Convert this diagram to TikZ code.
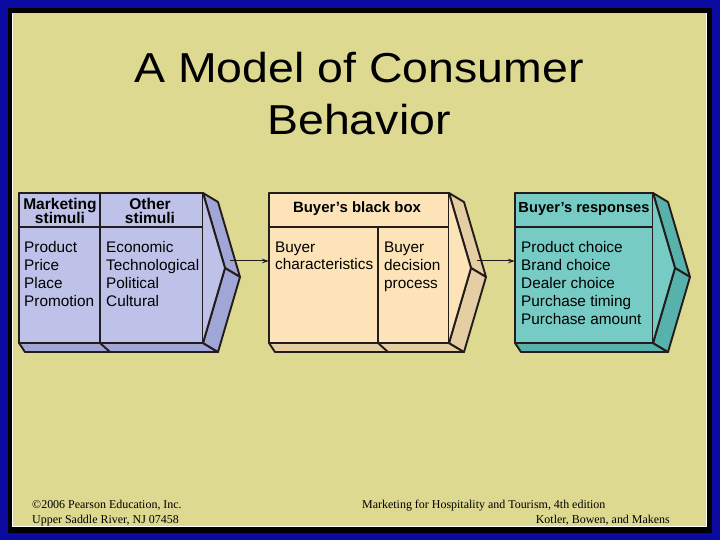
\documentclass[tikz,border=0pt]{standalone}
\usepackage{graphicx}
\usepackage{fontspec}
\setmainfont{Liberation Sans}
\newfontfamily\footfont{Liberation Serif}
\usetikzlibrary{arrows.meta}
\definecolor{slideblue}{RGB}{10,10,160}
\definecolor{slidetan}{RGB}{221,217,144}
\definecolor{edge}{RGB}{35,28,28}
\definecolor{lavfront}{RGB}{190,194,232}
\definecolor{lavside}{RGB}{160,167,214}
\definecolor{peachfront}{RGB}{253,228,184}
\definecolor{peachside}{RGB}{230,206,164}
\definecolor{tealfront}{RGB}{118,204,196}
\definecolor{tealside}{RGB}{88,178,172}
\tikzset{
  outline/.style={draw=edge, line width=1.9bp, line join=round},
  frontbox/.style={outline, rectangle, inner sep=0pt, outer sep=0pt, anchor=north west, minimum height=150bp},
  boxtext/.style={inner sep=0pt, anchor=base west, align=left, font=\fontsize{15.4}{18}\selectfont},
  headtext/.style={inner sep=0pt, anchor=base, align=center, font=\bfseries\fontsize{15}{15}\selectfont},
  foottext/.style={inner sep=0pt, font=\footfont\fontsize{12}{14}\selectfont},
  flow/.style={draw=edge, line width=1bp, -{Stealth[length=7bp,width=4.5bp]}}
}
% #1 left x, #2 right x, #3 front colour, #4 side colour, #5 node name
\newcommand\chevbox[5]{%
  \path[outline, fill=#4] (#1,343) -- (#2,343) -- (#2+15,352) -- (#1+6,352) -- cycle;
  \path[outline, fill=#4] (#2,193) -- (#2+15,202) -- (#2+37,277) -- (#2+22,268) -- cycle;
  \path[outline, fill=#4] (#2+22,268) -- (#2+37,277) -- (#2+15,352) -- (#2,343) -- cycle;
  \node[frontbox, fill=#3, minimum width=#2bp-#1bp] (#5) at (#1,193) {};
  \path[outline, fill=#3] (#2,193) -- (#2+22,268) -- (#2,343);
  \draw[outline] (#5.west |- 0,227) -- (#5.east |- 0,227);
}
\begin{document}
\begin{tikzpicture}[x=1bp,y=-1bp]
\useasboundingbox (0,0) rectangle (720,540);
\fill[slideblue] (0,0) rectangle (720,540);
\fill[black] (8,8) rectangle (712,533);
\fill[white] (12,13) rectangle (707,527);
\fill[slidetan] (13,13) rectangle (706,526);

% title
\node[inner sep=0pt, anchor=base] (title1) at (359,83)
  {\scalebox{1.11}[1]{\fontsize{42}{52}\selectfont A Model of Consumer}};
\node[inner sep=0pt, anchor=base] (title2) at (359,135)
  {\scalebox{1.11}[1]{\fontsize{42}{52}\selectfont Behavior}};

% box 1: stimuli (base anchor = last line)
\chevbox{19}{203}{lavfront}{lavside}{f1}
\draw[outline] (100,193) -- (100,343) -- (110,352);
\node[headtext, font=\bfseries\fontsize{15.6}{15}\selectfont] (h1a) at (60,224) {Marketing\\stimuli};
\node[headtext, font=\bfseries\fontsize{15.6}{15}\selectfont] (h1b) at (150,224) {Other\\stimuli};
\node[boxtext] (t1a) at (24,306) {Product\\Price\\Place\\Promotion};
\node[boxtext] (t1b) at (106,306) {Economic\\Technological\\Political\\Cultural};

% box 2: black box
\chevbox{269}{449}{peachfront}{peachside}{f2}
\draw[outline] (378,227) -- (378,343) -- (388,352);
\node[headtext] (h2) at (357,213) {Buyer's black box};
\node[boxtext] (t2a) at (275,270) {Buyer\\characteristics};
\node[boxtext] (t2b) at (384,288) {Buyer\\decision\\process};

% box 3: responses
\chevbox{515}{653}{tealfront}{tealside}{f3}
\node[headtext, font=\bfseries\fontsize{14.7}{15}\selectfont] (h3) at (584,213) {Buyer's responses};
\node[boxtext] (t3) at (521,324) {Product choice\\Brand choice\\Dealer choice\\Purchase timing\\Purchase amount};

% connectors
\coordinate (s1) at (230,261);
\coordinate (s2) at (477,261);
\draw[flow] (s1) -- (s1 -| f2.west);
\draw[flow] (s2) -- (s2 -| f3.west);

% footer
\node[foottext, anchor=base west] (c1) at (32,508) {©2006 Pearson Education, Inc.};
\node[foottext, anchor=base west] (c2) at (32,523) {Upper Saddle River, NJ 07458};
\node[foottext, anchor=base west] (c3) at (362,508) {Marketing for Hospitality and Tourism, 4th edition};
\node[foottext, anchor=base east] (c4) at (670,523) {Kotler, Bowen, and Makens};
\end{tikzpicture}
\end{document}
